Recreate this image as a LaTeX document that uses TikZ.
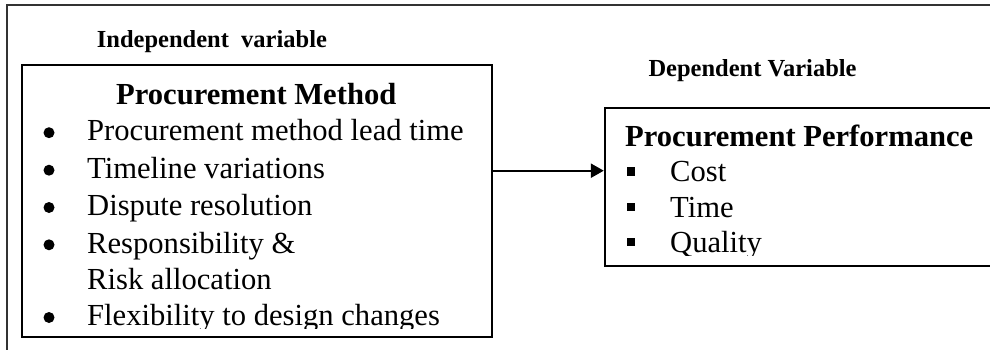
\documentclass[tikz,border=0pt]{standalone}
\usepackage{fontspec}
\setmainfont{Liberation Serif}
\usetikzlibrary{arrows.meta}
\begin{document}
\begin{tikzpicture}[x=1pt,y=-1pt,
  box/.style={draw=black,line width=2.4pt,rectangle,inner sep=0pt},
  frame/.style={draw=black!80,line width=1.4pt},
  txt/.style={anchor=base west,inner sep=0pt,font=\fontsize{30.6}{36}\selectfont},
  head/.style={anchor=base west,inner sep=0pt,font=\fontsize{30.6}{36}\selectfont\bfseries},
  lbl/.style={anchor=base west,inner sep=0pt,font=\fontsize{24.5}{29}\selectfont\bfseries},
  dot/.style={circle,fill=black,inner sep=0pt,minimum size=11pt},
  sq/.style={rectangle,fill=black,inner sep=0pt,minimum size=8.5pt},
  arr/.style={line width=2.3pt,-{Triangle[length=13pt,width=14pt]}}]
\useasboundingbox (0,0) rectangle (990,350);
% outer frame
\coordinate (fb) at (7,352);
\coordinate (fc) at (7,5);
\coordinate (fr) at (995,5);
\draw[frame] (fb) -- (fc) -- (fr);
% labels
\node[lbl] (lind) at (96.7,47.7) {Independent\ \ variable};
\node[lbl] (ldep) at (648.3,76.7) {Dependent Variable};
% boxes
\node[box,minimum width=470pt,minimum height=272pt] (pm) at (257,201) {};
\node[box,minimum width=395pt,minimum height=158pt] (pp) at (802.5,187) {};
% arrow
\coordinate (ay) at (0,170.7);
\draw[arr] (pm.east |- ay) -- (pp.west |- ay);
% left box content
\node[head] (pmh) at (116,105) {Procurement Method};
\node[dot] (b1) at (49,132.7) {};
\node[txt] (t1) at (87,141) {Procurement method lead time};
\node[dot] (b2) at (49,170.2) {};
\node[txt] (t2) at (87,178.5) {Timeline variations};
\node[dot] (b3) at (49,207.5) {};
\node[txt] (t3) at (87,215.8) {Dispute resolution};
\node[dot] (b4) at (49,244.8) {};
\node[txt] (t4) at (87,253.1) {Responsibility \&};
\node[txt] (t5) at (87,289.6) {Risk allocation};
\node[dot] (b6) at (49,317.5) {};
\begin{scope}
  \clip (0,0) rectangle (490,328.3);
  \node[txt] (t6) at (87,325.8) {Flexibility to design changes};
\end{scope}
% right box content
\node[head] (pph) at (625,146.7) {Procurement Performance};
\node[sq] (s1) at (631,171.5) {};
\node[txt] (c1) at (670,181.7) {Cost};
\node[sq] (s2) at (631,207.1) {};
\node[txt] (c2) at (670,217.3) {Time};
\node[sq] (s3) at (631,241.8) {};
\begin{scope}
  \clip (600,0) rectangle (990,255);
  \node[txt] (c3) at (670,252) {Quality};
\end{scope}
\end{tikzpicture}
\end{document}
